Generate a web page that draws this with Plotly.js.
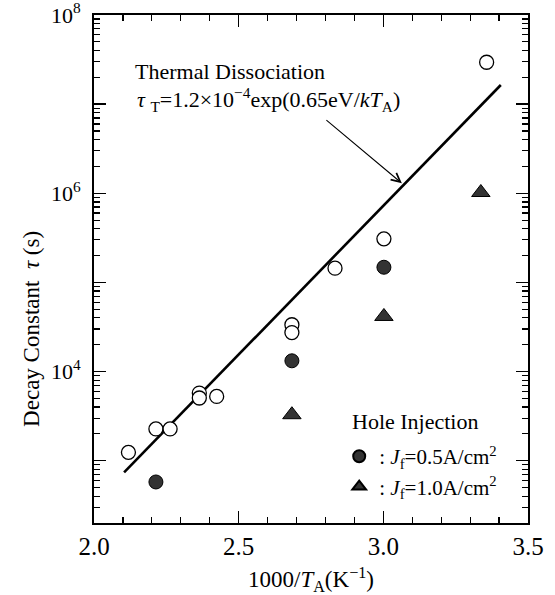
<!DOCTYPE html>
<html>
<head>
<meta charset="utf-8">
<script src="https://cdn.plot.ly/plotly-3.0.1.min.js"></script>
<style>html,body{margin:0;padding:0;background:#fff;}#chart{width:555px;height:595px;}</style>
</head>
<body>
<div id="chart"></div>
<script>
// ---- data ----
const thermalX = [2.119, 2.214, 2.263, 2.364, 2.364, 2.424, 2.684, 2.684, 2.833, 3.002, 3.357];
const thermalY = [1240, 2270, 2270, 5740, 5050, 5260, 33500, 27400, 144500, 308000, 2.95e7];
const jf05X = [2.214, 2.684, 3.002];
const jf05Y = [577, 13200, 148000];
const jf10X = [2.684, 3.002, 3.337];
const jf10Y = [3280, 41500, 1.02e6];
const fitX = [2.104, 3.406];
const fitY = [740, 1.64e7];
const yMajorVals = [1e3, 1e4, 1e5, 1e6, 1e7, 1e8];
const yMajorText = ['', '10<sup>4</sup>', '', '10<sup>6</sup>', '', '10<sup>8</sup>'];
const xTickVals = [2.0, 2.5, 3.0, 3.5];
const xTickText = ['2.0', '2.5', '3.0', '3.5'];

const FONT = "'Liberation Serif', 'Times New Roman', serif";
const yMinor = [];
for (let k = 2; k < 8; k++) for (let m = 2; m <= 9; m++) yMinor.push(m * Math.pow(10, k));

const traces = [
  {x: fitX, y: fitY, mode: 'lines', line: {color: '#000', width: 2.6}, showlegend: false, hoverinfo: 'skip'},
  {x: thermalX, y: thermalY, mode: 'markers', showlegend: false,
   marker: {symbol: 'circle', size: 14, color: '#fff', line: {color: '#000', width: 1.3}}},
  {x: jf05X, y: jf05Y, mode: 'markers', name: ': <i>J</i><sub>f</sub>=0.5A/cm<sup>2</sup>',
   marker: {symbol: 'circle', size: 14, color: '#333', line: {color: '#000', width: 1}}},
  {x: jf10X, y: jf10Y, mode: 'markers', name: ': <i>J</i><sub>f</sub>=1.0A/cm<sup>2</sup>',
   marker: {symbol: 'triangle-up', size: 16, color: '#333', line: {color: '#000', width: 1}}}
];

const layout = {
  width: 555, height: 595,
  margin: {l: 94, r: 27, t: 15, b: 72},
  paper_bgcolor: '#fff', plot_bgcolor: '#fff',
  font: {family: FONT, color: '#000', size: 22},
  showlegend: true,
  legend: {x: 0.565, y: 0.171, xanchor: 'left', yanchor: 'top', bgcolor: 'rgba(0,0,0,0)',
           font: {family: FONT, size: 21, color: '#000'}, itemsizing: 'constant', tracegroupgap: 0},
  xaxis: {
    range: [2.0, 3.5], showline: true, linecolor: '#000', linewidth: 2, mirror: 'allticks',
    ticks: 'inside', ticklen: 12, tickwidth: 1.5, tickcolor: '#000',
    tickmode: 'array', tickvals: xTickVals, ticktext: xTickText, ticklabeloverflow: 'allow',
    tickfont: {family: FONT, size: 25}, showgrid: false, zeroline: false,
    minor: {ticks: 'inside', ticklen: 6, tickwidth: 1.2, tickcolor: '#000', dtick: 0.1, tick0: 2.0, showgrid: false},
    title: {text: '1000/<i>T</i><sub>A</sub>(K<sup>−1</sup>)', font: {family: FONT, size: 23}, standoff: 16}
  },
  yaxis: {
    type: 'log', range: [Math.log10(200), 8], showline: true, linecolor: '#000', linewidth: 2, mirror: 'allticks',
    ticks: 'inside', ticklen: 12, tickwidth: 1.5, tickcolor: '#000',
    tickmode: 'array', tickvals: yMajorVals, ticktext: yMajorText, ticklabelstandoff: 7, ticklabeloverflow: 'allow',
    tickfont: {family: FONT, size: 22}, showgrid: false, zeroline: false,
    minor: {ticks: 'inside', ticklen: 6, tickwidth: 1.2, tickcolor: '#000', tickmode: 'array', tickvals: yMinor, showgrid: false}
  },
  annotations: [
    {xref: 'paper', yref: 'paper', x: -0.143, y: 0.382, text: 'Decay Constant  <i>τ</i> (s)', textangle: -90,
     showarrow: false, font: {family: FONT, size: 23}, xanchor: 'center', yanchor: 'middle'},
    {xref: 'paper', yref: 'paper', x: 0.09, y: 0.889, xanchor: 'left', yanchor: 'middle', showarrow: false,
     text: 'Thermal Dissociation', font: {family: FONT, size: 22}},
    {xref: 'paper', yref: 'paper', x: 0.094, y: 0.833, xanchor: 'left', yanchor: 'middle', showarrow: false,
     text: '<i>τ</i> <sub>T</sub>=1.2×10<sup>−4</sup>exp(0.65eV/<i>kT</i><sub>A</sub>)', font: {family: FONT, size: 22}},
    {xref: 'x', yref: 'y', x: 3.064, y: 6.113, axref: 'x', ayref: 'y', ax: 2.798, ay: 6.834, text: '',
     showarrow: true, arrowhead: 5, arrowsize: 1.6, arrowwidth: 1.1, arrowcolor: '#000'},
    {xref: 'paper', yref: 'paper', x: 0.59, y: 0.200, xanchor: 'left', yanchor: 'middle', showarrow: false,
     text: 'Hole Injection', font: {family: FONT, size: 22}}
  ]
};

Plotly.newPlot('chart', traces, layout, {staticPlot: true, displayModeBar: false});
</script>
</body>
</html>
